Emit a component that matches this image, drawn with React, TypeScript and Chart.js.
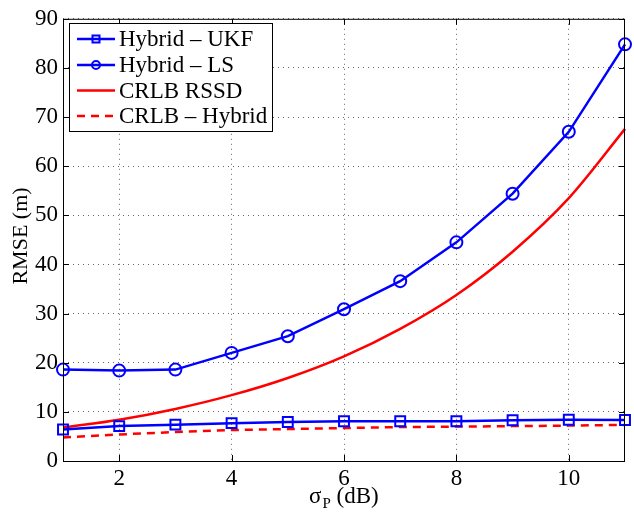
import React, { useEffect, useRef } from "react";
import { Chart, registerables } from "chart.js";

Chart.register(...registerables);

const xValues = [1, 2, 3, 4, 5, 6, 7, 8, 9, 10, 11];
const hybridUKF = [6.4, 7.1, 7.4, 7.7, 7.95, 8.1, 8.1, 8.1, 8.3, 8.4, 8.35];
const hybridLS = [18.6, 18.4, 18.6, 22.0, 25.4, 30.9, 36.6, 44.5, 54.4, 67.0, 84.8];
const crlbRSSD = [6.8, 8.4, 10.6, 13.4, 16.9, 21.3, 26.9, 33.8, 42.6, 53.5, 67.6];
const crlbHybrid = [4.8, 5.4, 5.9, 6.3, 6.5, 6.7, 6.9, 7.0, 7.1, 7.2, 7.35];
const xTicks = [2, 4, 6, 8, 10];
const yTicks = [0, 10, 20, 30, 40, 50, 60, 70, 80, 90];
const labels = ["Hybrid – UKF", "Hybrid – LS", "CRLB RSSD", "CRLB – Hybrid"];

const FONT = "'Liberation Serif', 'Times New Roman', serif";
const BLUE = "#0000ff";
const RED = "#ff0000";

const toXY = (ys: number[]) => xValues.map((x, i) => ({ x, y: ys[i] }));

const framePlugin = {
  id: "frame",
  afterDraw(chart: any) {
    const { ctx, chartArea: a, scales } = chart;
    const xs = scales.x;
    const ys = scales.y;
    ctx.save();
    // box
    ctx.strokeStyle = "#000";
    ctx.lineWidth = 1;
    ctx.setLineDash([]);
    ctx.strokeRect(a.left + 0.5, a.top + 0.5, a.right - a.left - 1, a.bottom - a.top);
    // inward ticks
    const tl = 6;
    ctx.beginPath();
    xTicks.forEach((v) => {
      const px = Math.round(xs.getPixelForValue(v)) + 0.5;
      ctx.moveTo(px, a.bottom);
      ctx.lineTo(px, a.bottom - tl);
      ctx.moveTo(px, a.top);
      ctx.lineTo(px, a.top + tl);
    });
    yTicks.forEach((v) => {
      const py = Math.round(ys.getPixelForValue(v)) + 0.5;
      ctx.moveTo(a.left, py);
      ctx.lineTo(a.left + tl, py);
      ctx.moveTo(a.right, py);
      ctx.lineTo(a.right - tl, py);
    });
    ctx.stroke();

    // axis titles
    ctx.fillStyle = "#000";
    ctx.font = `22px ${FONT}`;
    ctx.textAlign = "center";
    ctx.textBaseline = "middle";
    ctx.save();
    ctx.translate(21, 236);
    ctx.rotate(-Math.PI / 2);
    ctx.fillText("RMSE (m)", 0, 0);
    ctx.restore();

    ctx.textAlign = "left";
    ctx.textBaseline = "alphabetic";
    ctx.font = `23px ${FONT}`;
    const base = 503;
    let x0 = 309;
    ctx.fillText("σ", x0, base);
    x0 += ctx.measureText("σ").width;
    ctx.font = `15px ${FONT}`;
    ctx.fillText("P", x0 + 1, base + 5);
    x0 += ctx.measureText("P").width + 1;
    ctx.font = `23px ${FONT}`;
    ctx.fillText(" (dB)", x0, base);

    // legend
    const lx = 69, ly = 23, lw = 203, lh = 108;
    ctx.fillStyle = "#fff";
    ctx.fillRect(lx, ly, lw, lh);
    ctx.strokeStyle = "#000";
    ctx.lineWidth = 1;
    ctx.strokeRect(lx + 0.5, ly + 0.5, lw, lh);
    const rows = [39, 65, 90.5, 116];
    chart.data.datasets.forEach((ds: any, i: number) => {
      const y = rows[i];
      ctx.save();
      ctx.strokeStyle = ds.borderColor;
      ctx.lineWidth = ds.borderWidth;
      ctx.setLineDash(ds.borderDash || []);
      ctx.beginPath();
      ctx.moveTo(77, y);
      ctx.lineTo(115, y);
      ctx.stroke();
      ctx.setLineDash([]);
      if (ds.pointRadius > 0) {
        ctx.lineWidth = ds.pointBorderWidth;
        ctx.beginPath();
        if (ds.pointStyle === "rect") {
          const s = 3.5;
          ctx.rect(96 - s, y - s, 2 * s, 2 * s);
        } else {
          ctx.arc(96, y, 4, 0, Math.PI * 2);
        }
        ctx.stroke();
      }
      ctx.restore();
      ctx.fillStyle = "#000";
      ctx.font = `23px ${FONT}`;
      ctx.textAlign = "left";
      ctx.textBaseline = "middle";
      ctx.fillText(ds.label, 119, y + 1);
    });
    ctx.restore();
  },
};

export default function App() {
  const ref = useRef<HTMLCanvasElement | null>(null);
  useEffect(() => {
    if (!ref.current) return;
    const chart = new Chart(ref.current, {
      type: "line",
      data: {
        datasets: [
          {
            label: labels[0],
            data: toXY(hybridUKF),
            borderColor: BLUE,
            borderWidth: 2.5,
            pointStyle: "rect",
            pointRadius: 7,
            pointBorderWidth: 2,
            pointBorderColor: BLUE,
            pointBackgroundColor: "rgba(0,0,0,0)",
            fill: false,
          },
          {
            label: labels[1],
            data: toXY(hybridLS),
            borderColor: BLUE,
            borderWidth: 2.5,
            pointStyle: "circle",
            pointRadius: 6,
            pointBorderWidth: 2,
            pointBorderColor: BLUE,
            pointBackgroundColor: "rgba(0,0,0,0)",
            fill: false,
          },
          {
            label: labels[2],
            data: toXY(crlbRSSD),
            borderColor: RED,
            borderWidth: 2.5,
            pointRadius: 0,
            cubicInterpolationMode: "monotone",
            fill: false,
          },
          {
            label: labels[3],
            data: toXY(crlbHybrid),
            borderColor: RED,
            borderWidth: 2.5,
            borderDash: [8, 6],
            pointRadius: 0,
            fill: false,
          },
        ] as any,
      },
      options: {
        animation: false,
        responsive: false,
        clip: false as any,
        layout: { padding: { top: 16, right: 5, left: 0, bottom: 0 } },
        plugins: { legend: { display: false }, tooltip: { enabled: false }, title: { display: false } },
        scales: {
          x: {
            type: "linear",
            min: 1,
            max: 11,
            afterBuildTicks: (s: any) => {
              s.ticks = xTicks.map((v) => ({ value: v }));
            },
            afterFit: (s: any) => {
              s.height = 55;
            },
            grid: { color: "rgba(0,0,0,0.6)", drawTicks: false, lineWidth: 1 },
            border: { display: false, dash: [1, 4] },
            ticks: { color: "#000", font: { family: FONT, size: 23 }, padding: 4, maxRotation: 0 },
          },
          y: {
            type: "linear",
            min: 0,
            max: 90,
            afterBuildTicks: (s: any) => {
              s.ticks = yTicks.map((v) => ({ value: v }));
            },
            afterFit: (s: any) => {
              s.width = 63;
            },
            grid: { color: "rgba(0,0,0,0.6)", drawTicks: false, lineWidth: 1 },
            border: { display: false, dash: [1, 4] },
            ticks: { color: "#000", font: { family: FONT, size: 23 }, padding: 5 },
          },
        },
      },
      plugins: [framePlugin],
    });
    return () => chart.destroy();
  }, []);
  return (
    <div style={{ position: "fixed", left: 0, top: 0, width: 634, height: 516, background: "#fff" }}>
      <canvas ref={ref} width={634} height={516} style={{ display: "block" }} />
    </div>
  );
}
